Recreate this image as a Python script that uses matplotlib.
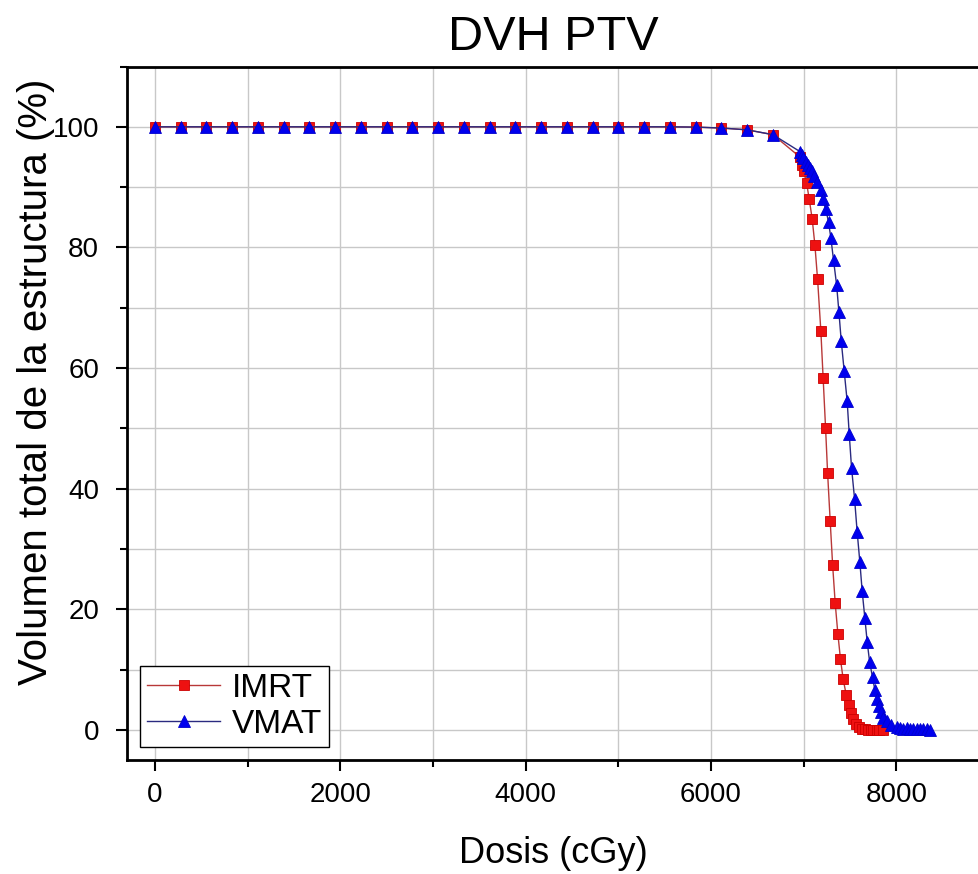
import matplotlib
matplotlib.use("Agg")
import matplotlib.pyplot as plt
from matplotlib.ticker import MultipleLocator

plt.rcParams['font.family'] = ['Liberation Sans', 'DejaVu Sans']

# ------------------- data -------------------

imrt_dose = [0, 278, 556, 833, 1111, 1389, 1667, 1944, 2222, 2500, 2778, 3056,
             3333, 3611, 3889, 4167, 4444, 4722, 5000, 5278, 5556, 5833, 6111,
             6389, 6667, 6958, 6980, 7001, 7030, 7058, 7091, 7120, 7149, 7184,
             7209, 7235, 7257, 7285, 7311, 7339, 7368, 7396, 7425, 7458, 7485,
             7508, 7533, 7562, 7594, 7630, 7660, 7690, 7720, 7750, 7785, 7815,
             7850]
imrt_vol = [100, 100, 100, 100, 100, 100, 100, 100, 100, 100, 100, 100,
            100, 100, 100, 100, 100, 100, 100, 100, 100, 99.95, 99.8,
            99.5, 98.7, 95.0, 93.7, 92.6, 90.7, 88.1, 84.7, 80.4, 74.7, 66.2,
            58.3, 50.1, 42.6, 34.6, 27.4, 21.0, 15.9, 11.7, 8.4, 5.8, 4.1,
            2.8, 1.8, 1.05, 0.55, 0.2, 0.08, 0.03, 0.0, 0.0, 0.0, 0.0,
            0.0]

vmat_dose = [0, 278, 556, 833, 1111, 1389, 1667, 1944, 2222, 2500, 2778, 3056,
             3333, 3611, 3889, 4167, 4444, 4722, 5000, 5278, 5556, 5833, 6111,
             6389, 6667, 6958, 6976, 6994, 7019, 7041, 7066, 7091, 7112, 7138,
             7181, 7203, 7238, 7267, 7292, 7321, 7354, 7379, 7404, 7436, 7468,
             7490, 7515, 7548, 7576, 7605, 7630, 7659, 7684, 7710, 7742, 7767,
             7789, 7810, 7832, 7857, 7893, 7937, 8001, 8040, 8073, 8110, 8145,
             8180, 8217, 8250, 8289, 8325, 8360]
vmat_vol = [100, 100, 100, 100, 100, 100, 100, 100, 100, 100, 100, 100,
            100, 100, 100, 100, 100, 100, 100, 100, 100, 99.95, 99.8,
            99.5, 98.7, 95.9, 95.3, 94.8, 94.2, 93.7, 93.1, 92.6, 91.9, 90.9,
            89.5, 88.0, 86.3, 84.2, 81.6, 77.9, 73.8, 69.3, 64.5, 59.5, 54.5,
            49.1, 43.5, 38.3, 32.8, 27.8, 23.0, 18.5, 14.6, 11.3, 8.7, 6.6,
            5.1, 3.9, 2.9, 2.0, 1.4, 0.8, 0.4, 0.3, 0.2, 0.3, 0.1,
            0.2, 0.1, 0.2, 0.1, 0.1, 0.0]

x_ticks = [0, 2000, 4000, 6000, 8000]
y_ticks = [0, 20, 40, 60, 80, 100]

# ------------------- figure -------------------

fig = plt.figure(figsize=(9.79, 8.74), dpi=100)
ax = fig.add_axes([0.1297, 0.1304, 0.8703, 0.7935])

ax.plot(imrt_dose, imrt_vol, color='#b83838', lw=1.0, marker='s', ms=6.5,
        mfc='#ee1111', mec='#cc0000', mew=0.6, label='IMRT', zorder=3)
ax.plot(vmat_dose, vmat_vol, color='#2a2a80', lw=1.0, marker='^', ms=9,
        mfc='#0000ee', mec='#0000cc', mew=0.6, label='VMAT', zorder=4)

ax.set_xlim(-300, 8890)
ax.set_ylim(-5, 110)

ax.set_xticks(x_ticks)
ax.set_yticks(y_ticks)
ax.xaxis.set_minor_locator(MultipleLocator(1000))
ax.yaxis.set_minor_locator(MultipleLocator(10))
ax.grid(True, which='both', color='#c8c8c8', lw=1.0, zorder=0)
ax.set_axisbelow(True)

ax.tick_params(which='major', direction='out', length=8, width=1.5,
               labelsize=20, pad=8, top=False, right=False)
ax.tick_params(which='major', axis='y', pad=12)
ax.tick_params(which='minor', direction='out', length=5, width=1.5,
               top=False, right=False)

for side in ('left', 'bottom', 'top'):
    ax.spines[side].set_linewidth(2.0)
ax.spines['right'].set_visible(False)

ax.set_xlabel('Dosis (cGy)', fontsize=26, labelpad=20)
ax.set_ylabel('Volumen total de la estructura (%)', fontsize=29)
ax.yaxis.set_label_coords(-0.085, 0.545)
ax.set_title('DVH PTV', fontsize=35, pad=12)

leg = ax.legend(loc='lower left', fontsize=24, frameon=True, fancybox=False,
                edgecolor='black', framealpha=1, handlelength=2.2,
                borderpad=0.2, labelspacing=0.15, handletextpad=0.35,
                borderaxespad=0.4)
leg.get_frame().set_linewidth(1.0)

fig.savefig('out.png', dpi=100)
